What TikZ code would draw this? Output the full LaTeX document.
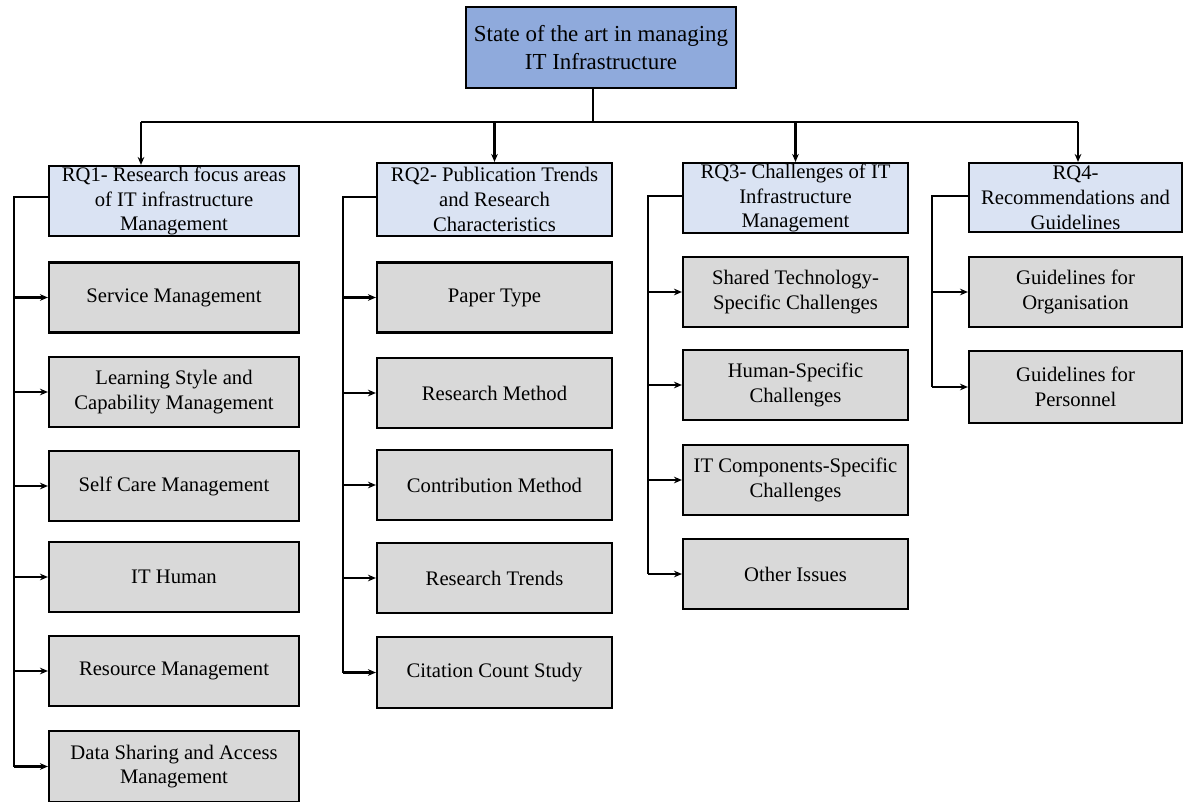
\documentclass[tikz,border=0pt]{standalone}
\usepackage{fontspec}
\setmainfont{Liberation Serif}
\usetikzlibrary{arrows.meta,calc}
\definecolor{topblue}{HTML}{8FAADC}
\definecolor{hdrblue}{HTML}{DAE3F3}
\definecolor{itemgray}{HTML}{D9D9D9}
\tikzset{
  wh/.style 2 args={minimum width=#1*0.75pt, minimum height=#2*0.75pt},
  box/.style={draw=black, line width=1.6pt, align=center, inner sep=0pt, anchor=center,
    font=\fontsize{15.5}{18.5}\selectfont},
  topbox/.style={box, fill=topblue, font=\fontsize{17.2}{20.5}\selectfont},
  hdr/.style={box, fill=hdrblue, font=\fontsize{15.5}{18.7}\selectfont},
  item/.style={box, fill=itemgray},
  wire/.style={line width=1.6pt},
  arr/.style={wire, -{Stealth[length=6pt,width=5pt]}}
}
\begin{document}
\begin{tikzpicture}[x=0.75pt,y=-0.75pt]
\useasboundingbox (0,0) rectangle (1184,802);

% top
\node[topbox, wh={270}{81}] (top) at (601,47.5) {State of the art in managing\\IT Infrastructure};
\coordinate (hub) at (593,122);

% headers
\node[hdr, wh={250}{70}] (rq1) at (174,201) {RQ1- Research focus areas\\of IT infrastructure\\Management};
\node[hdr, wh={235}{73}] (rq2) at (494.5,199.5) {RQ2- Publication Trends\\and Research\\Characteristics};
\node[hdr, wh={225}{70}] (rq3) at (795.5,198) {RQ3- Challenges of IT\\Infrastructure\\Management};
\node[hdr, wh={213}{69}] (rq4) at (1075.5,197.5) {RQ4-\\Recommendations and\\Guidelines};

% RQ1 items
\node[item, wh={250}{70}] (a1) at (174,297.5) {Service Management};
\node[item, wh={250}{70}] (a2) at (174,392) {Learning Style and\\Capability Management};
\node[item, wh={250}{70}] (a3) at (174,486) {Self Care Management};
\node[item, wh={250}{70}] (a4) at (174,577) {IT Human};
\node[item, wh={250}{70}] (a5) at (174,671) {Resource Management};
\node[item, wh={250}{71}] (a6) at (174,766.5) {Data Sharing and Access\\Management};

% RQ2 items
\node[item, wh={235}{70}] (b1) at (494.5,297.5) {Paper Type};
\node[item, wh={235}{70}] (b2) at (494.5,393) {Research Method};
\node[item, wh={235}{70}] (b3) at (494.5,485) {Contribution Method};
\node[item, wh={235}{70}] (b4) at (494.5,578) {Research Trends};
\node[item, wh={235}{71}] (b5) at (494.5,672.5) {Citation Count Study};

% RQ3 items
\node[item, wh={225}{70}] (c1) at (795.5,292) {Shared Technology-\\Specific Challenges};
\node[item, wh={225}{70}] (c2) at (795.5,385) {Human-Specific\\Challenges};
\node[item, wh={225}{70}] (c3) at (795.5,480) {IT Components-Specific\\Challenges};
\node[item, wh={225}{70}] (c4) at (795.5,574) {Other Issues};

% RQ4 items
\node[item, wh={213}{70}] (d1) at (1075.5,292) {Guidelines for\\Organisation};
\node[item, wh={213}{72}] (d2) at (1075.5,387) {Guidelines for\\Personnel};

% top connectors
\draw[wire] (top.south -| hub) -- (hub);
\coordinate (t1) at ($(rq1.north)+(-33,0)$);
\coordinate (t4) at ($(rq4.north)+(2.5,0)$);
\draw[wire] (hub -| t1) -- (hub -| t4);
\draw[arr] (hub -| t1) -- (t1);
\draw[arr] (hub -| rq2.north) -- (rq2.north);
\draw[arr] (hub -| rq3.north) -- (rq3.north);
\draw[arr] (hub -| t4) -- (t4);

% buses
\coordinate (busA) at (14,197);
\coordinate (busB) at (343,197);
\coordinate (busC) at (648,196);
\coordinate (busD) at (932,196);

\draw[wire] (rq1.west |- busA) -- (busA) -- (busA |- a6.west);
\foreach \n in {a1,a2,a3,a4,a5,a6} \draw[arr] (busA |- \n.west) -- (\n.west);

\draw[wire] (rq2.west |- busB) -- (busB) -- (busB |- b5.west);
\foreach \n in {b1,b2,b3,b4,b5} \draw[arr] (busB |- \n.west) -- (\n.west);

\draw[wire] (rq3.west |- busC) -- (busC) -- (busC |- c4.west);
\foreach \n in {c1,c2,c3,c4} \draw[arr] (busC |- \n.west) -- (\n.west);

\draw[wire] (rq4.west |- busD) -- (busD) -- (busD |- d2.west);
\foreach \n in {d1,d2} \draw[arr] (busD |- \n.west) -- (\n.west);
\end{tikzpicture}
\end{document}
